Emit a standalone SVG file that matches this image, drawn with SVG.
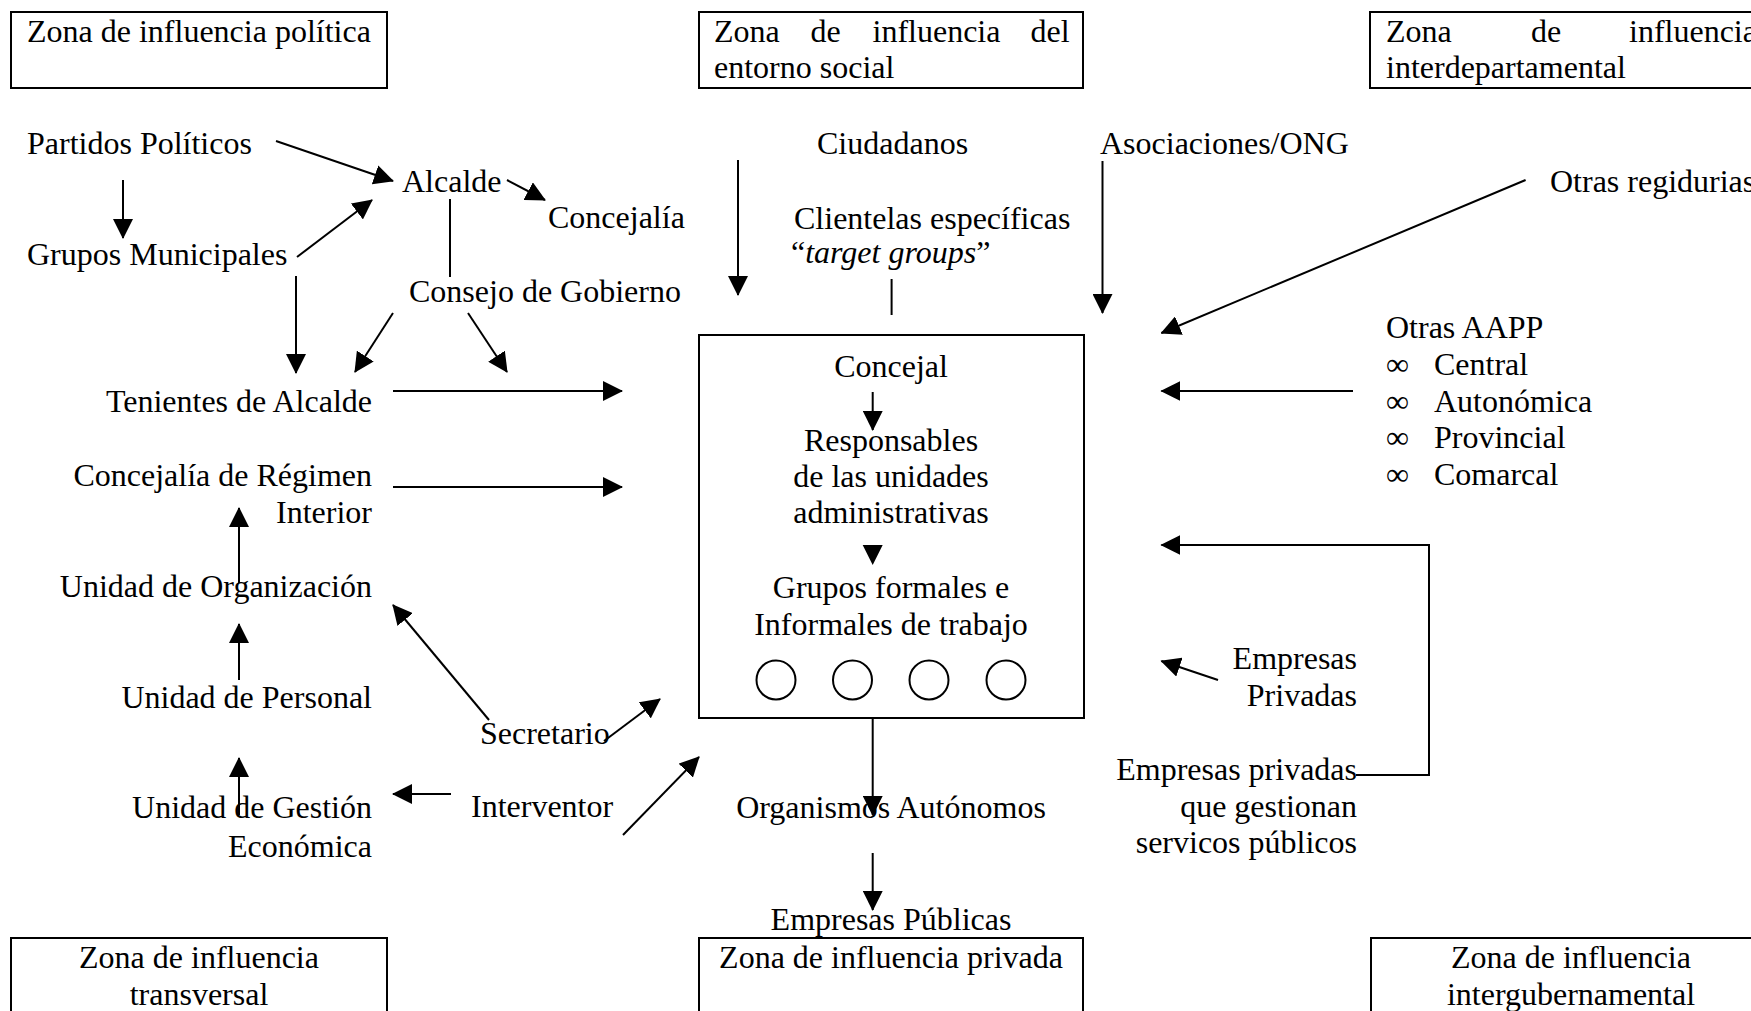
<svg xmlns="http://www.w3.org/2000/svg" width="1751" height="1011" viewBox="0 0 1751 1011">
<defs>
<style>
text{font-family:"Liberation Serif","Times New Roman",serif;font-size:32px;fill:#000}
.box{fill:none;stroke:#000;stroke-width:2}
.c{fill:none;stroke:#000;stroke-width:2}
.a{marker-end:url(#ah)}
.e{text-anchor:end}
.m{text-anchor:middle}
</style>
<marker id="ah" markerUnits="userSpaceOnUse" markerWidth="20" markerHeight="20" refX="19" refY="10" orient="auto" viewBox="0 0 20 20">
<path d="M0,0 L20,10 L0,20 z" fill="#000"/>
</marker>
</defs>
<rect width="1751" height="1011" fill="#fff"/>

<g id="zona-politica"><rect class="box" x="11" y="12" width="376" height="76"/><text x="27" y="42">Zona de influencia política</text></g>
<g id="zona-social"><rect class="box" x="699" y="12" width="384" height="76"/><text y="42"><tspan x="714">Zona</tspan><tspan x="810.5">de</tspan><tspan x="872.5">influencia</tspan><tspan x="1030.5">del</tspan></text><text x="714" y="78">entorno social</text></g>
<g id="zona-interdep"><rect class="box" x="1370" y="12" width="401" height="76"/><text y="42"><tspan x="1386">Zona</tspan><tspan x="1531">de</tspan><tspan x="1629">influencia</tspan></text><text x="1386" y="78">interdepartamental</text></g>

<g id="zona-transversal"><rect class="box" x="11" y="938" width="376" height="90"/><text class="m" x="199" y="968">Zona de influencia</text><text class="m" x="199" y="1005">transversal</text></g>
<g id="zona-privada"><rect class="box" x="699" y="938" width="384" height="90"/><text class="m" x="891" y="968">Zona de influencia privada</text></g>
<g id="zona-intergub"><rect class="box" x="1371" y="938" width="400" height="90"/><text class="m" x="1571" y="968">Zona de influencia</text><text class="m" x="1571" y="1005">intergubernamental</text></g>

<g id="partidos"><text x="27" y="154">Partidos Políticos</text></g>
<g id="grupos-municipales"><text x="27" y="265">Grupos Municipales</text></g>
<g id="alcalde"><text x="402" y="192">Alcalde</text></g>
<g id="concejalia"><text x="548" y="228">Concejalía</text></g>
<g id="consejo"><text x="409" y="302">Consejo de Gobierno</text></g>
<g id="tenientes"><text class="e" x="372" y="412">Tenientes de Alcalde</text></g>
<g id="concejalia-ri"><text class="e" x="372" y="486">Concejalía de Régimen</text><text class="e" x="372" y="523">Interior</text></g>
<g id="unidad-org"><text class="e" x="372" y="597">Unidad de Organización</text></g>
<g id="unidad-personal"><text class="e" x="372" y="708">Unidad de Personal</text></g>
<g id="unidad-gestion"><text class="e" x="372" y="818">Unidad de Gestión</text><text class="e" x="372" y="857">Económica</text></g>
<g id="secretario"><text x="480" y="744">Secretario</text></g>
<g id="interventor"><text x="471" y="817">Interventor</text></g>

<g id="ciudadanos"><text x="817" y="154">Ciudadanos</text></g>
<g id="clientelas"><text x="794" y="229">Clientelas específicas</text><text x="791" y="263">“<tspan font-style="italic">target groups</tspan>”</text></g>
<g id="asociaciones"><text x="1100" y="154">Asociaciones/ONG</text></g>
<g id="otras-regidurias"><text x="1550" y="192">Otras regidurias</text></g>
<g id="otras-aapp"><text x="1386" y="338">Otras AAPP</text>
<text x="1386" y="375">∞</text><text x="1434" y="375">Central</text>
<text x="1386" y="412">∞</text><text x="1434" y="412">Autonómica</text>
<text x="1386" y="448">∞</text><text x="1434" y="448">Provincial</text>
<text x="1386" y="485">∞</text><text x="1434" y="485">Comarcal</text></g>
<g id="empresas-privadas"><text class="e" x="1357" y="669">Empresas</text><text class="e" x="1357" y="706">Privadas</text></g>
<g id="empresas-sp"><text class="e" x="1357" y="780">Empresas privadas</text><text class="e" x="1357" y="817">que gestionan</text><text class="e" x="1357" y="853">servicos públicos</text></g>

<g id="centro"><rect class="box" x="699" y="335" width="385" height="383"/>
<text class="m" x="891" y="377">Concejal</text>
<text class="m" x="891" y="451">Responsables</text>
<text class="m" x="891" y="487">de las unidades</text>
<text class="m" x="891" y="523">administrativas</text>
<text class="m" x="891" y="598">Grupos formales e</text>
<text class="m" x="891" y="635">Informales de trabajo</text>
<circle class="c" cx="776" cy="680" r="19.5"/><circle class="c" cx="852.5" cy="680" r="19.5"/><circle class="c" cx="929" cy="680" r="19.5"/><circle class="c" cx="1006" cy="680" r="19.5"/>
</g>
<g id="organismos"><text class="m" x="891" y="818">Organismos Autónomos</text></g>
<g id="empresas-publicas"><text class="m" x="891" y="930">Empresas Públicas</text></g>

<g id="connectors">
<line class="c a" x1="276" y1="141" x2="393" y2="181"/>
<line class="c a" x1="123" y1="180" x2="123" y2="238"/>
<line class="c a" x1="297" y1="257" x2="372" y2="200"/>
<line class="c a" x1="507" y1="180" x2="545" y2="200"/>
<line class="c" x1="450" y1="199" x2="450" y2="277"/>
<line class="c a" x1="296" y1="276" x2="296" y2="373"/>
<line class="c a" x1="393" y1="313" x2="355" y2="372"/>
<line class="c a" x1="468" y1="313" x2="507" y2="372"/>
<line class="c a" x1="393" y1="391" x2="622" y2="391"/>
<line class="c a" x1="393" y1="487" x2="622" y2="487"/>
<line class="c a" x1="239" y1="583" x2="239" y2="508"/>
<line class="c a" x1="239" y1="680" x2="239" y2="624"/>
<line class="c a" x1="489" y1="720" x2="393" y2="605"/>
<line class="c a" x1="604" y1="741" x2="660" y2="699"/>
<line class="c a" x1="239" y1="815" x2="239" y2="758"/>
<line class="c a" x1="451" y1="794" x2="393" y2="794"/>
<line class="c a" x1="623" y1="835" x2="699" y2="757"/>
<line class="c a" x1="872.7" y1="718" x2="872.7" y2="815"/>
<line class="c a" x1="872.7" y1="853" x2="872.7" y2="910"/>
<line class="c a" x1="738" y1="160" x2="738" y2="295"/>
<line class="c" x1="891.6" y1="279" x2="891.6" y2="315"/>
<line class="c a" x1="1102.5" y1="161" x2="1102.5" y2="313"/>
<line class="c a" x1="1525.6" y1="180" x2="1161.4" y2="333"/>
<line class="c a" x1="1353" y1="391" x2="1161.4" y2="391"/>
<polyline class="c a" points="1356,775 1429,775 1429,545 1161.4,545"/>
<line class="c a" x1="1218" y1="680" x2="1161.4" y2="661"/>
<line class="c a" x1="872.7" y1="392" x2="872.7" y2="430"/>
<polygon points="862.7,545 882.7,545 872.7,565" fill="#000"/>
</g>
</svg>
